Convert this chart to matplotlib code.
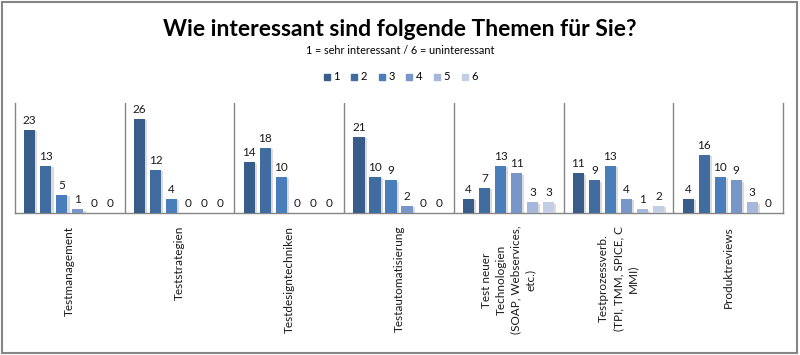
import matplotlib
matplotlib.use("Agg")
import matplotlib.pyplot as plt
import matplotlib.patheffects as pe
from matplotlib.patches import Rectangle
from matplotlib.lines import Line2D
import numpy as np

plt.rcParams['font.family'] = ['Lato', 'DejaVu Sans']

categories = [
    "Testmanagement",
    "Teststrategien",
    "Testdesigntechniken",
    "Testautomatisierung",
    "Test neuer\nTechnologien\n(SOAP, Webservices,\netc.)",
    "Testprozessverb.\n(TPI, TMM, SPICE, C\nMMI)",
    "Produktreviews",
]
series_names = ["1", "2", "3", "4", "5", "6"]
values = {
    "1": [23, 26, 14, 21, 4, 11, 4],
    "2": [13, 12, 18, 10, 7, 9, 16],
    "3": [5, 4, 10, 9, 13, 13, 10],
    "4": [1, 0, 0, 2, 11, 4, 9],
    "5": [0, 0, 0, 0, 3, 1, 3],
    "6": [0, 0, 0, 0, 3, 2, 0],
}
colors = ['#385D8A', '#416CA0', '#4A7EBB', '#7896C8', '#A5B8DB', '#C2CEE6']
title = "Wie interessant sind folgende Themen für Sie?"
subtitle = "1 = sehr interessant / 6 = uninteressant"

W, H = 800, 355
fig = plt.figure(figsize=(W / 100, H / 100), dpi=100)
fig.patch.set_facecolor('white')

# outer border
fig.patches.append(Rectangle((1.5 / W, 2 / H), (797 - 1.5) / W, (353 - 2) / H,
                             transform=fig.transFigure, fill=False,
                             edgecolor='#868686', linewidth=1.5))

ax = fig.add_axes([15 / W, 1 - 213 / H, (783 - 15) / W, (213 - 103) / H])
ax.set_xlim(0, len(categories))
ax.set_ylim(0, 30.4)

pitch = 0.146
bw = 0.102
shadow = [pe.SimplePatchShadow(offset=(1.5, -1.0), shadow_rgbFace='#9a9a9a', alpha=0.35), pe.Normal()]
x = np.arange(len(categories)) + 0.5
for j, name in enumerate(series_names):
    pos = x + (j - 2.5) * pitch
    bars = ax.bar(pos, values[name], width=bw, color=colors[j], zorder=3,
                  path_effects=shadow)
    for xp, v in zip(pos, values[name]):
        ax.text(xp, v + 1.1, str(v), ha='center', va='bottom', fontsize=8.5,
                color='#1a1a1a', zorder=4)

for i in range(1, len(categories)):
    ax.axvline(i, color='#868686', linewidth=1, zorder=1)

for s in ['top']:
    ax.spines[s].set_visible(False)
for s in ['left', 'right', 'bottom']:
    ax.spines[s].set_color('#868686')
    ax.spines[s].set_linewidth(1)
ax.set_yticks([])
ax.set_xticks([])

for xi, lab in zip(x, categories):
    ax.text(xi, -13 / 3.62, lab, rotation=90, ha='center', va='top',
            multialignment='center', fontsize=8.5, color='#1a1a1a',
            linespacing=1.4)

fig.text(0.5, 1 - 30 / H, title, ha='center', va='center', fontsize=16.5,
         fontweight='bold', color='black')
fig.text(0.5, 1 - 51 / H, subtitle, ha='center', va='center', fontsize=7.8,
         color='black')

handles = [Line2D([], [], marker='s', linestyle='none', markersize=5,
                  markerfacecolor=c, markeredgecolor=c) for c in colors]
fig.legend(handles, series_names, loc='center', bbox_to_anchor=(0.5, 1 - 77 / H),
           ncol=6, frameon=False, fontsize=8, handlelength=0.8,
           handletextpad=0.2, columnspacing=0.9)

fig.savefig("out.png", dpi=100, facecolor='white')
